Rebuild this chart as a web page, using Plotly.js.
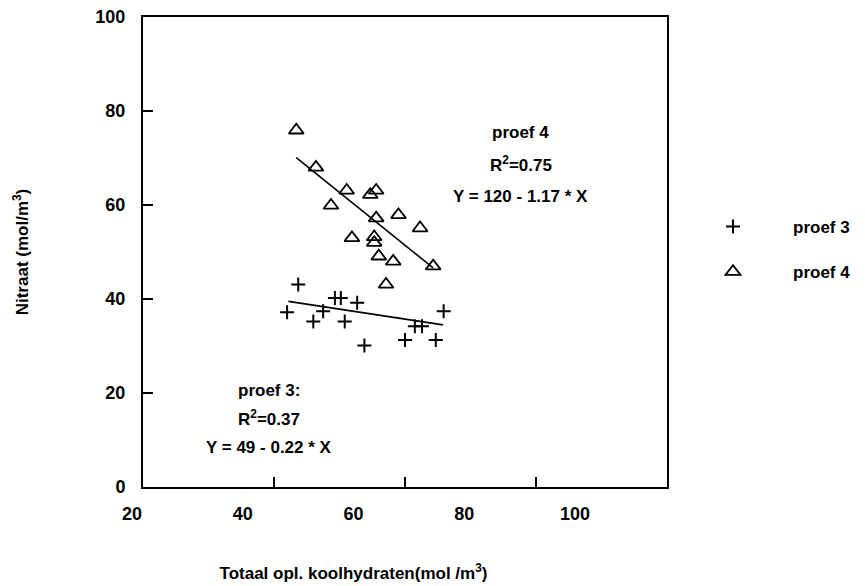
<!DOCTYPE html>
<html>
<head>
<meta charset="utf-8">
<script src="https://cdn.plot.ly/plotly-3.0.1.min.js"></script>
<style>html,body{margin:0;padding:0;background:#fff;}#chart{width:865px;height:586px;}</style>
</head>
<body>
<div id="chart"></div>
<script>
// ---- data ----
const proef3Name = "proef 3";
const proef3X = [43.7, 42.0, 49.3, 50.2, 52.7, 47.5, 46.0, 50.8, 53.8, 60.0, 61.5, 62.6, 64.7, 65.9];
const proef3Y = [43.1, 37.2, 40.2, 40.2, 39.2, 37.4, 35.2, 35.2, 30.1, 31.3, 34.2, 34.2, 31.3, 37.4];

const proef4Name = "proef 4";
const proef4X = [43.4, 46.4, 51.1, 55.6, 54.7, 48.7, 59.0, 55.6, 62.3, 51.9, 55.3, 55.3, 56.0, 58.2, 64.3, 57.1];
const proef4Y = [75.9, 68.0, 63.1, 63.1, 62.2, 59.9, 57.9, 57.2, 55.1, 53.0, 53.2, 52.0, 49.1, 48.0, 47.0, 43.1];

// regression lines (end points as drawn)
const fit3X = [42.2, 65.8];
const fit3Y = [39.5, 34.5];
const fit4X = [43.4, 64.3];
const fit4Y = [70.1, 46.6];

const xTicks = [20, 40, 60, 80, 100];
const yTicks = [0, 20, 40, 60, 80, 100];

const xTitle = "Totaal opl. koolhydraten(mol /m<sup>3</sup>)";
const yTitle = "Nitraat (mol/m<sup>3</sup>)";

const note4Lines = ["proef 4", "R<sup>2</sup>=0.75", "Y = 120 - 1.17 * X"];
const note3Lines = ["proef 3:", "R<sup>2</sup>=0.37", "Y = 49 - 0.22 * X"];

// ---- drawing ----
const FONT = "Liberation Sans, Arial, Helvetica, sans-serif";
const bold = (size) => ({family: FONT, size: size, color: "#000", weight: "bold"});

const traces = [
  {x: proef3X, y: proef3Y, name: proef3Name, type: "scatter", mode: "markers",
   legendgroup: "g3",
   marker: {symbol: "cross-thin-open", size: 10, color: "#000", line: {color: "#000", width: 2}}},
  {x: proef4X, y: proef4Y, name: proef4Name, type: "scatter", mode: "markers",
   legendgroup: "g4",
   marker: {symbol: "triangle-up-open", size: 13, color: "#000", line: {color: "#000", width: 1.8}}},
  {x: fit3X, y: fit3Y, type: "scatter", mode: "lines", showlegend: false, hoverinfo: "skip",
   line: {color: "#000", width: 1.6}},
  {x: fit4X, y: fit4Y, type: "scatter", mode: "lines", showlegend: false, hoverinfo: "skip",
   line: {color: "#000", width: 1.6}},
  // empty trace so that the tick-label axis (x2) is laid out
  {x: [], y: [], xaxis: "x2", yaxis: "y", type: "scatter", mode: "markers",
   showlegend: false, hoverinfo: "skip"}
];

const annotations = [];
const note4Y = [75.5, 68.7, 61.9];
note4Lines.forEach((t, i) => annotations.push({
  x: 77.7, y: note4Y[i], xref: "x", yref: "y", text: t, showarrow: false,
  xanchor: "center", yanchor: "middle", font: bold(17)}));
const note3Y = [20.6, 14.7, 8.3];
note3Lines.forEach((t, i) => annotations.push({
  x: 39.3, y: note3Y[i], xref: "x", yref: "y", text: t, showarrow: false,
  xanchor: "center", yanchor: "middle", font: bold(17)}));

const plotW = 865 - 100 - 198; // paper width in px
const layout = {
  width: 865, height: 586,
  margin: {l: 100, r: 198, t: 17, b: 99, pad: 0},
  paper_bgcolor: "#fff", plot_bgcolor: "rgba(0,0,0,0)",
  font: bold(16),
  showlegend: true,
  legend: {
    xref: "container", yref: "container",
    x: 673 / 865, y: 1 - 209 / 586, xanchor: "left", yanchor: "top",
    font: bold(17), itemwidth: 110, tracegroupgap: 20,
    bgcolor: "rgba(0,0,0,0)", borderwidth: 0
  },
  xaxis: {
    domain: [43 / plotW, 1], range: [20, 100], tickvals: xTicks,
    showticklabels: false, ticks: "inside", ticklen: 10, tickwidth: 1.5, tickcolor: "#000",
    showline: true, linewidth: 2, linecolor: "#000", mirror: true,
    showgrid: false, zeroline: false
  },
  xaxis2: {
    domain: [32 / plotW, 475 / plotW], anchor: "free", position: 0,
    range: [20, 100], tickvals: xTicks,
    ticks: "", showline: false, showgrid: false, zeroline: false,
    tickfont: bold(18), ticklabelstandoff: 14,
    title: {text: xTitle, font: bold(17), standoff: 44}
  },
  yaxis: {
    domain: [0, 1], range: [0, 100], tickvals: yTicks, anchor: "x",
    ticks: "inside", ticklen: 10, tickwidth: 1.5, tickcolor: "#000",
    showline: true, linewidth: 2, linecolor: "#000", mirror: true,
    showgrid: false, zeroline: false,
    tickfont: bold(18), ticklabelstandoff: 12,
    title: {text: yTitle, font: bold(17), standoff: 62}
  },
  annotations: annotations
};

Plotly.newPlot("chart", traces, layout, {displayModeBar: false, staticPlot: true});
</script>
</body>
</html>
